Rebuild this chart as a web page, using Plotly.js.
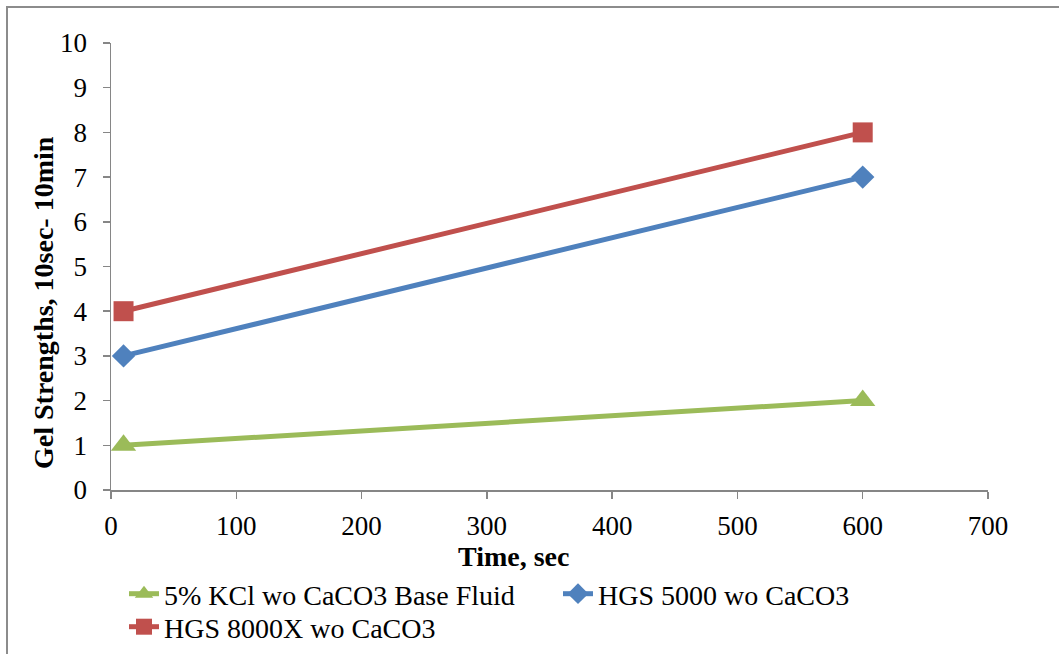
<!DOCTYPE html>
<html>
<head>
<meta charset="utf-8">
<script src="https://cdn.plot.ly/plotly-3.0.1.min.js"></script>
<style>
html,body{margin:0;padding:0;background:#fff;}
#wrap{position:relative;width:1059px;height:654px;}
#chart{width:1059px;height:654px;}
#frame{position:absolute;left:6px;top:6px;width:1060px;height:660px;border:2px solid #8c8c8c;box-sizing:border-box;pointer-events:none;}
</style>
</head>
<body>
<div id="wrap"><div id="chart"></div><div id="frame"></div></div>
<script>
const timeSec = [10, 600];
const kclBase = [1, 2];
const hgs5000 = [3, 7];
const hgs8000 = [4, 8];
const seriesNames = ["5% KCl wo CaCO3 Base Fluid", "HGS 5000 wo CaCO3", "HGS 8000X wo CaCO3"];
const xTitle = "Time, sec";
const yTitle = "Gel Strengths, 10sec- 10min";

const font = "Liberation Serif";
const traces = [
  {x: timeSec, y: kclBase, name: seriesNames[0], mode: 'lines+markers', legend: 'legend',
   line: {color: '#9BBB59', width: 5}, marker: {symbol: 'triangle-up', size: 22, color: '#9BBB59'}},
  {x: timeSec, y: hgs5000, name: seriesNames[1], mode: 'lines+markers', legend: 'legend',
   line: {color: '#4F81BD', width: 5}, marker: {symbol: 'diamond', size: 18, color: '#4F81BD'}},
  {x: timeSec, y: hgs8000, name: seriesNames[2], mode: 'lines+markers', legend: 'legend2',
   line: {color: '#C0504D', width: 5}, marker: {symbol: 'square', size: 20, color: '#C0504D'}}
];
const axisCommon = {
  showgrid: false, zeroline: false, showline: true, linecolor: '#868686', linewidth: 1.5,
  ticks: 'outside', ticklen: 7, tickcolor: '#868686', tickwidth: 1.5,
  tickfont: {family: font, size: 27, color: '#000'}
};
const legendCommon = {orientation: 'h', xref: 'container', yref: 'container', x: 124/1059, xanchor: 'left',
  yanchor: 'middle', font: {family: font, size: 28, color: '#000'}, entrywidth: 389, entrywidthmode: 'pixels',
  bgcolor: 'rgba(0,0,0,0)', itemwidth: 30};
const layout = {
  width: 1059, height: 654,
  margin: {l: 111, r: 71, t: 43, b: 164},
  paper_bgcolor: '#fff', plot_bgcolor: '#fff',
  font: {family: font, color: '#000'},
  xaxis: Object.assign({}, axisCommon, {range: [0, 700], dtick: 100, tick0: 0, ticklabelstandoff: 4}),
  yaxis: Object.assign({}, axisCommon, {range: [0, 10], dtick: 1, tick0: 0, ticklabelstandoff: 10}),
  showlegend: true,
  legend: Object.assign({}, legendCommon, {y: 1 - 594/654}),
  legend2: Object.assign({}, legendCommon, {y: 1 - 627/654}),
  annotations: [
    {text: '<b>' + xTitle + '</b>', xref: 'paper', yref: 'paper', x: (513-111)/877, y: (490-556)/447,
     showarrow: false, font: {family: font, size: 28, color: '#000'}, xanchor: 'center', yanchor: 'middle'},
    {text: '<b>' + yTitle + '</b>', xref: 'paper', yref: 'paper', x: (43-111)/877, y: (490-303)/447,
     showarrow: false, textangle: -90, font: {family: font, size: 28, color: '#000'}, xanchor: 'center', yanchor: 'middle'}
  ]
};
Plotly.newPlot('chart', traces, layout, {displayModeBar: false, staticPlot: true});
</script>
</body>
</html>
